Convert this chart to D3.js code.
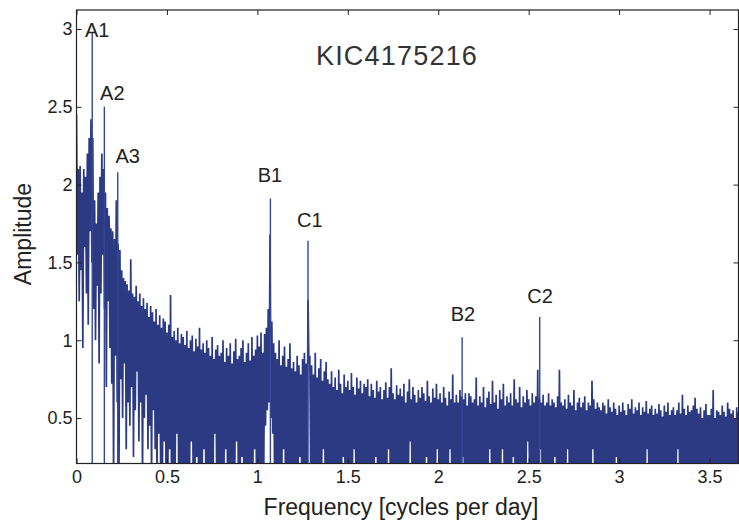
<!DOCTYPE html>
<html><head><meta charset="utf-8">
<script src="https://cdn.jsdelivr.net/npm/d3@7"></script>
<style>html,body{margin:0;padding:0;background:#fff}svg{display:block}</style>
</head><body><svg id="chart" width="739" height="525"></svg>
<script>
// ---- data ----
const freqStep = 0.01; // frequency grid spacing, cycles per day
const ampHigh = [
2.45,2.10,2.12,1.95,2.10,2.05,2.20,2.30,2.42,2.30,
1.90,1.75,1.95,2.05,2.20,2.10,1.95,1.85,1.80,1.72,
1.70,1.65,1.90,1.62,1.58,1.45,1.40,1.38,1.36,1.32,
1.52,1.30,1.28,1.35,1.25,1.30,1.22,1.27,1.20,1.24,
1.15,1.22,1.18,1.12,1.20,1.10,1.16,1.08,1.14,1.12,
1.05,1.10,1.29,1.02,1.06,1.00,1.08,0.98,1.04,1.02,
0.97,1.06,0.95,1.00,1.03,0.93,1.01,0.96,1.08,0.94,
0.98,0.92,1.00,0.95,0.90,1.02,0.88,0.94,0.97,0.90,
0.92,1.00,0.86,0.95,0.90,0.98,0.85,0.93,1.01,0.88,
0.90,0.95,1.00,0.86,0.92,0.98,0.87,1.02,0.90,0.94,
1.03,0.96,1.05,0.92,1.04,1.08,1.20,1.68,1.12,0.98,
0.92,0.88,1.00,0.84,0.90,0.96,0.83,0.88,0.98,0.82,
0.86,0.80,0.90,0.84,0.78,0.88,0.92,0.85,1.26,0.90,
0.84,0.78,0.92,0.76,0.82,0.88,0.74,0.80,0.86,0.75,
0.72,0.80,0.70,0.76,0.68,0.81,0.72,0.66,0.78,0.70,
0.74,0.68,0.79,0.70,0.65,0.76,0.69,0.74,0.66,0.72,
0.70,0.75,0.64,0.72,0.68,0.63,0.74,0.67,0.70,0.62,
0.68,0.73,0.63,0.70,0.82,0.66,0.62,0.71,0.65,0.69,
0.64,0.72,0.60,0.67,0.75,0.62,0.70,0.65,0.60,0.68,
0.63,0.70,0.66,0.61,0.74,0.64,0.60,0.69,0.63,0.72,
0.62,0.66,0.60,0.70,0.63,0.58,0.67,0.62,0.78,0.60,
0.65,0.60,0.68,0.64,0.62,0.66,0.58,0.66,0.64,0.60,
0.62,0.76,0.58,0.64,0.60,0.70,0.57,0.63,0.67,0.59,
0.74,0.60,0.65,0.56,0.68,0.62,0.72,0.58,0.64,0.60,
0.66,0.58,0.75,0.62,0.60,0.70,0.57,0.64,0.60,0.68,
0.62,0.58,0.66,0.60,0.64,0.81,0.62,0.60,0.65,0.58,
0.60,0.66,0.58,0.62,0.60,0.57,0.64,0.81,0.60,0.58,
0.62,0.56,0.65,0.60,0.58,0.68,0.55,0.60,0.63,0.57,
0.60,0.64,0.55,0.60,0.58,0.74,0.62,0.56,0.60,0.57,
0.55,0.60,0.58,0.53,0.62,0.57,0.54,0.60,0.56,0.52,
0.58,0.54,0.60,0.55,0.52,0.59,0.56,0.62,0.53,0.57,
0.55,0.60,0.52,0.57,0.54,0.61,0.53,0.56,0.58,0.52,
0.56,0.53,0.59,0.55,0.51,0.58,0.54,0.60,0.52,0.55,
0.57,0.52,0.55,0.60,0.53,0.65,0.56,0.52,0.58,0.54,
0.55,0.58,0.63,0.56,0.53,0.57,0.50,0.55,0.59,0.52,
0.52,0.56,0.68,0.50,0.55,0.54,0.52,0.58,0.54,0.51,
0.60,0.56,0.53,0.55,0.50,0.57,0.54,0.52
];
const ampLow = [
1.55,1.25,1.45,0.95,1.60,1.30,1.10,1.70,1.50,1.20,
1.00,1.35,0.85,1.30,1.55,1.20,0.70,1.25,0.95,0.72,
0.10,0.90,0.60,0.15,0.75,0.50,0.85,0.30,0.60,0.45,
0.70,0.25,0.55,0.80,0.35,0.60,0.10,0.50,0.65,0.30,
0.45,0.10,0.55,0.30,0.12,0.40,0.20,0.10,0.35,0.10,
0.10,0.30,0.10,0.15,0.10,0.40,0.10,0.10,0.20,0.10,
0.10,0.15,0.10,0.35,0.10,0.10,0.25,0.10,0.10,0.10,
0.30,0.10,0.10,0.15,0.10,0.10,0.40,0.10,0.10,0.20,
0.10,0.10,0.30,0.10,0.15,0.10,0.10,0.10,0.35,0.10,
0.10,0.25,0.10,0.10,0.10,0.15,0.10,0.10,0.30,0.10,
0.10,0.10,0.20,0.10,0.45,0.55,0.60,0.50,0.40,0.10,
0.10,0.15,0.10,0.10,0.30,0.10,0.10,0.10,0.20,0.10,
0.10,0.10,0.10,0.25,0.10,0.10,0.15,0.10,0.85,0.10,
0.10,0.10,0.20,0.10,0.10,0.10,0.30,0.10,0.10,0.10,
0.10,0.15,0.10,0.10,0.10,0.10,0.10,0.25,0.10,0.10,
0.10,0.10,0.10,0.30,0.10,0.10,0.10,0.10,0.10,0.15,
0.10,0.10,0.10,0.10,0.10,0.25,0.10,0.10,0.10,0.10,
0.10,0.10,0.30,0.10,0.10,0.10,0.10,0.10,0.20,0.10,
0.10,0.10,0.10,0.10,0.35,0.10,0.10,0.10,0.10,0.10,
0.10,0.10,0.10,0.25,0.10,0.10,0.10,0.10,0.10,0.30,
0.10,0.10,0.10,0.10,0.10,0.10,0.30,0.10,0.10,0.10,
0.10,0.10,0.10,0.25,0.10,0.10,0.10,0.10,0.10,0.10,
0.10,0.10,0.20,0.10,0.10,0.10,0.10,0.10,0.30,0.10,
0.10,0.10,0.10,0.10,0.10,0.30,0.10,0.10,0.10,0.10,
0.10,0.25,0.10,0.10,0.10,0.10,0.10,0.10,0.10,0.35,
0.10,0.10,0.10,0.10,0.10,0.10,0.30,0.10,0.10,0.10,
0.10,0.10,0.10,0.10,0.25,0.10,0.10,0.10,0.10,0.10,
0.10,0.30,0.10,0.10,0.10,0.10,0.10,0.10,0.10,0.10,
0.10,0.10,0.10,0.10,0.10,0.30,0.10,0.10,0.10,0.10,
0.10,0.10,0.10,0.10,0.10,0.10,0.10,0.10,0.25,0.10,
0.10,0.10,0.10,0.10,0.10,0.10,0.10,0.10,0.10,0.10,
0.10,0.10,0.10,0.10,0.10,0.30,0.10,0.10,0.10,0.10,
0.10,0.10,0.10,0.10,0.10,0.10,0.10,0.10,0.10,0.10,
0.10,0.10,0.30,0.10,0.10,0.10,0.10,0.10,0.10,0.10,
0.10,0.10,0.10,0.10,0.10,0.10,0.10,0.10,0.10,0.10,
0.10,0.10,0.10,0.10,0.10,0.10,0.10,0.10,0.10,0.10,
0.10,0.10,0.10,0.10,0.10,0.10,0.10,0.10
];
const peakLabels = ["A1","A2","A3","B1","C1","B2","C2"];
const peakFreqs  = [0.087, 0.154, 0.228, 1.072, 1.280, 2.132, 2.561];
const peakAmps   = [2.98, 2.50, 2.08, 1.91, 1.64, 1.02, 1.15];
const xTicks = [0, 0.5, 1, 1.5, 2, 2.5, 3, 3.5];
const yTicks = [0.5, 1, 1.5, 2, 2.5, 3];
const chartTitle = "KIC4175216";
const xTitle = "Frequency [cycles per day]";
const yTitle = "Amplitude";

// ---- layout / style ----
const plot = {left: 76.5, right: 738.5, top: 10, bottom: 463.5};
const xDomain = [0, 3.66], yDomain = [0.208, 3.122];
const lineColor = "#2b3a82";
const textColor = "#222";
const font = "'Liberation Sans', Arial, Helvetica, sans-serif";
const labelOffset = {A1:[5,4.5], A2:[8,-7], A3:[10,-9.5], B1:[-0.5,-16.5], C1:[1.8,-13.5], B2:[0.8,-16], C2:[0.3,-14]};

const svg = d3.select("#chart");
const x = d3.scaleLinear().domain(xDomain).range([plot.left, plot.right]);
const y = d3.scaleLinear().domain(yDomain).range([plot.bottom, plot.top]);

svg.append("defs").append("clipPath").attr("id","clip")
  .append("rect").attr("x",plot.left).attr("y",plot.top)
  .attr("width",plot.right-plot.left).attr("height",plot.bottom-plot.top);

// zig-zag spectrum: local maxima at grid points, local minima halfway between
const pts = [];
ampHigh.forEach((a,i) => {
  const f = i*freqStep;
  pts.push([f, a]);
  pts.push([f + freqStep/2, ampLow[i]]);
});
const g = svg.append("g").attr("clip-path","url(#clip)");
g.append("path")
  .attr("d", d3.line().x(d=>x(d[0])).y(d=>y(d[1]))(pts))
  .attr("fill","none").attr("stroke",lineColor).attr("stroke-width",1.7)
  .attr("stroke-linejoin","bevel");

g.selectAll("line.peak").data(peakFreqs).join("line").attr("class","peak")
  .attr("x1",d=>x(d)).attr("x2",d=>x(d))
  .attr("y1",y(yDomain[0])).attr("y2",(d,i)=>y(peakAmps[i]))
  .attr("stroke","#34469a").attr("stroke-width",1.4);

// axes with inward ticks
const ax = (gen, tr) => svg.append("g").attr("transform",tr).call(gen)
  .call(s=>s.select(".domain").remove())
  .call(s=>s.selectAll("line").attr("stroke","#222"))
  .call(s=>s.selectAll("text").attr("fill",textColor).style("font-family",font).style("font-size","18px"));

ax(d3.axisBottom(x).tickValues(xTicks).tickFormat(d3.format("~g")).tickSizeInner(-5).tickSizeOuter(0).tickPadding(7),
   `translate(0,${plot.bottom})`);
ax(d3.axisTop(x).tickValues(xTicks).tickFormat("").tickSizeInner(-5).tickSizeOuter(0), `translate(0,${plot.top})`);
ax(d3.axisLeft(y).tickValues(yTicks).tickFormat(d3.format("~g")).tickSizeInner(-5).tickSizeOuter(0).tickPadding(4),
   `translate(${plot.left},0)`);
ax(d3.axisRight(y).tickValues(yTicks).tickFormat("").tickSizeInner(-5).tickSizeOuter(0), `translate(${plot.right},0)`);

svg.append("rect").attr("x",plot.left).attr("y",plot.top)
  .attr("width",plot.right-plot.left).attr("height",plot.bottom-plot.top)
  .attr("fill","none").attr("stroke","#222").attr("stroke-width",1.2);

// peak labels
svg.selectAll("text.plabel").data(peakLabels).join("text").attr("class","plabel")
  .attr("x",(d,i)=>x(peakFreqs[i]) + labelOffset[d][0])
  .attr("y",(d,i)=>y(peakAmps[i]) + labelOffset[d][1])
  .attr("text-anchor","middle").attr("fill",textColor)
  .style("font-family",font).style("font-size","20px").text(d=>d);

svg.append("text").attr("x",397).attr("y",65).attr("text-anchor","middle")
  .attr("fill","#333").style("font-family",font).style("font-size","27px")
  .style("letter-spacing","1.2px").text(chartTitle);

svg.append("text").attr("x",401).attr("y",515).attr("text-anchor","middle")
  .attr("fill",textColor).style("font-family",font).style("font-size","23px").text(xTitle);

svg.append("text").attr("transform","translate(31,234) rotate(-90)").attr("text-anchor","middle")
  .attr("fill",textColor).style("font-family",font).style("font-size","23px").text(yTitle);
</script></body></html>
